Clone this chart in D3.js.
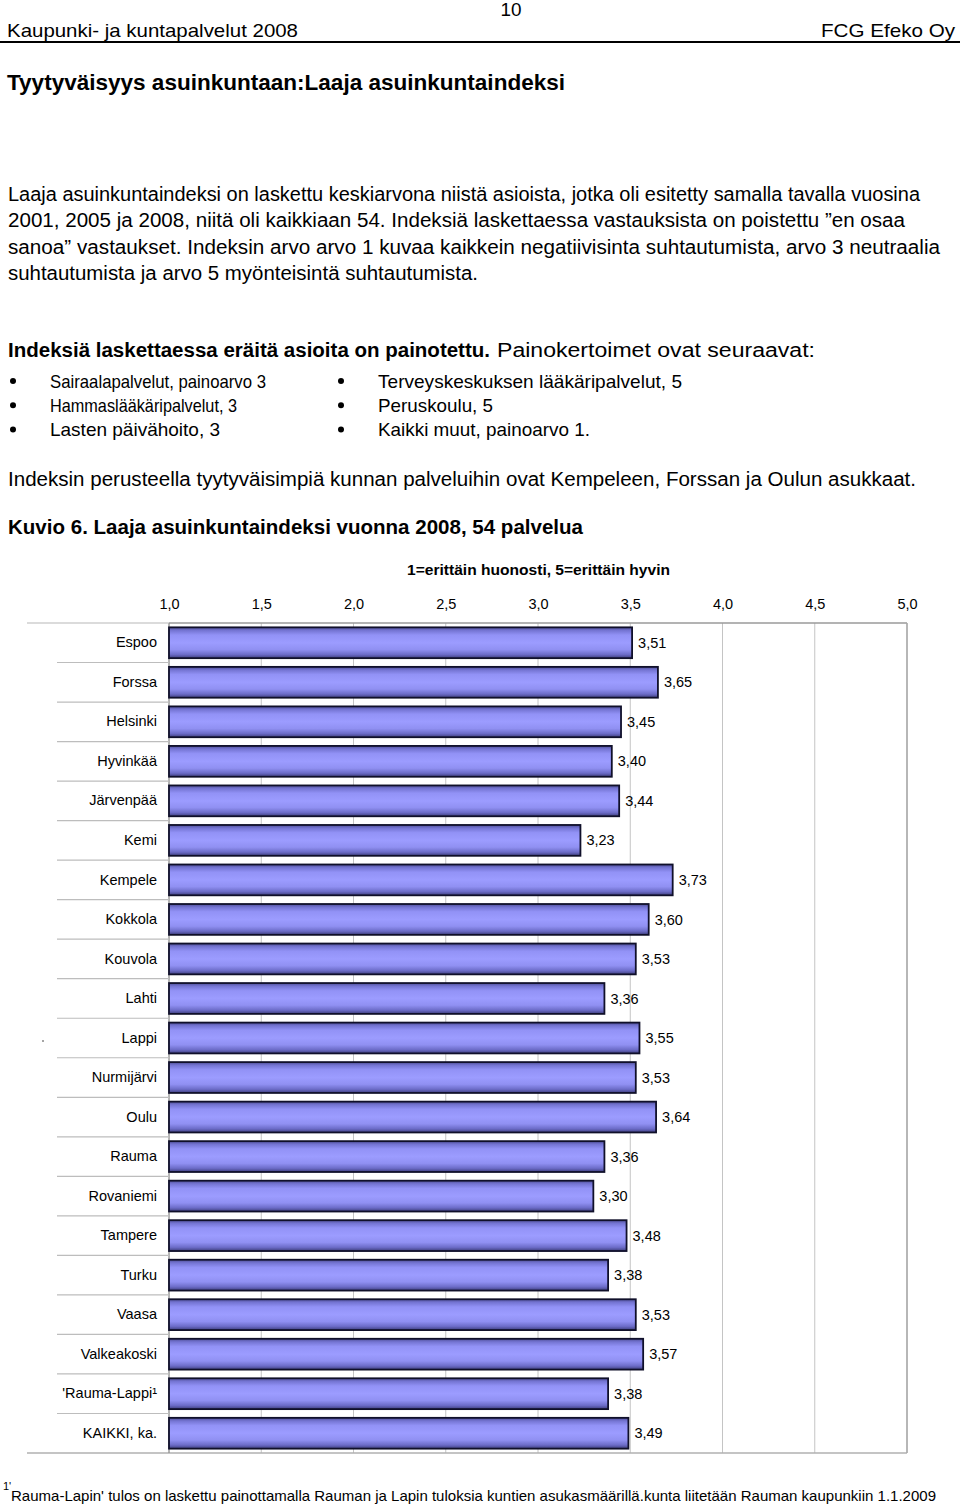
<!DOCTYPE html>
<html><head><meta charset="utf-8">
<script src="https://cdn.jsdelivr.net/npm/d3@7"></script>
<style>body{margin:0;background:#fff}svg{display:block}</style>
</head><body>
<script>
const categories = ["Espoo","Forssa","Helsinki","Hyvinkää","Järvenpää","Kemi","Kempele","Kokkola","Kouvola","Lahti","Lappi","Nurmijärvi","Oulu","Rauma","Rovaniemi","Tampere","Turku","Vaasa","Valkeakoski","'Rauma-Lappi¹","KAIKKI, ka."];
const values = [3.51,3.65,3.45,3.40,3.44,3.23,3.73,3.60,3.53,3.36,3.55,3.53,3.64,3.36,3.30,3.48,3.38,3.53,3.57,3.38,3.49];
const ticks = [1.0,1.5,2.0,2.5,3.0,3.5,4.0,4.5,5.0];
const fmt = v => v.toFixed(1).replace(".", ",");
const fmt2 = v => v.toFixed(2).replace(".", ",");

(function () {
const W = 960, H = 1507;
const svg = d3.select("body").append("svg").attr("width", W).attr("height", H);
const FF = "Liberation Sans, Arial, sans-serif";

function txt(x, y, s, size, opts = {}) {
  const t = svg.append("text").attr("x", x).attr("y", y).attr("font-family", FF)
    .attr("font-size", size).attr("fill", "#000").text(s);
  if (opts.bold) t.attr("font-weight", "bold");
  if (opts.anchor) t.attr("text-anchor", opts.anchor);
  if (opts.len) t.attr("textLength", opts.len).attr("lengthAdjust", "spacingAndGlyphs");
  return t;
}

// Header
txt(511, 16, "10", 18, {anchor: "middle", len: 21});
txt(7, 37, "Kaupunki- ja kuntapalvelut 2008", 19, {len: 291});
txt(955, 37, "FCG Efeko Oy", 19, {anchor: "end", len: 134});
svg.append("line").attr("x1", 0).attr("x2", 960).attr("y1", 42).attr("y2", 42).attr("stroke", "#000").attr("stroke-width", 2);

txt(7, 90, "Tyytyväisyys asuinkuntaan:Laaja asuinkuntaindeksi", 22, {bold: true, len: 558});

const para = [
  ["Laaja asuinkuntaindeksi on laskettu keskiarvona niistä asioista, jotka oli esitetty samalla tavalla vuosina", 912],
  ["2001, 2005 ja 2008, niitä oli kaikkiaan 54. Indeksiä laskettaessa vastauksista on poistettu ”en osaa", 897],
  ["sanoa” vastaukset. Indeksin arvo  arvo 1 kuvaa kaikkein negatiivisinta suhtautumista, arvo 3 neutraalia", 932],
  ["suhtautumista ja arvo 5 myönteisintä suhtautumista.", 470]
];
para.forEach((p, i) => txt(8, 201 + i * 26.3, p[0], 19.5, {len: p[1]}));

txt(8, 357, "Indeksiä laskettaessa eräitä asioita on painotettu.", 19.5, {bold: true, len: 482});
txt(497, 357, "Painokertoimet ovat seuraavat:", 19.5, {len: 318});

const bulletsL = ["Sairaalapalvelut, painoarvo 3", "Hammaslääkäripalvelut, 3", "Lasten päivähoito, 3"];
const bulletsR = ["Terveyskeskuksen lääkäripalvelut, 5", "Peruskoulu, 5", "Kaikki muut, painoarvo 1."];
const lensL = [216, 187, 170], lensR = [304, 115, 212];
bulletsL.forEach((b, i) => {
  const yy = 381 + i * 24.3;
  svg.append("circle").attr("cx", 13).attr("cy", yy).attr("r", 3).attr("fill", "#000");
  txt(50, yy + 6.5, b, 19, {len: lensL[i]});
});
bulletsR.forEach((b, i) => {
  const yy = 381 + i * 24.3;
  svg.append("circle").attr("cx", 341).attr("cy", yy).attr("r", 3).attr("fill", "#000");
  txt(378, yy + 6.5, b, 19, {len: lensR[i]});
});

txt(8, 486, "Indeksin perusteella tyytyväisimpiä kunnan palveluihin ovat Kempeleen, Forssan ja Oulun asukkaat.", 19.5, {len: 908});
txt(8, 534, "Kuvio 6. Laaja asuinkuntaindeksi vuonna 2008, 54 palvelua", 20.5, {bold: true, len: 575});
txt(407, 575, "1=erittäin huonosti, 5=erittäin hyvin", 15, {bold: true, len: 263});

// Chart
const plotTop = 623, plotBottom = 1453;
const x = d3.scaleLinear().domain([1, 5]).range([169, 907]);
const y = d3.scaleBand().domain(categories).range([plotTop, plotBottom]).paddingInner(0.22).paddingOuter(0.11);

const defs = svg.append("defs");
const g = defs.append("linearGradient").attr("id", "barg").attr("x1", 0).attr("x2", 0).attr("y1", 0).attr("y2", 1);
[[0, "#4e4e96"], [0.1, "#7474d2"], [0.25, "#9292f6"], [0.5, "#9c9cff"], [0.72, "#9090f2"], [0.88, "#6c6cc8"], [1, "#3e3e7c"]]
  .forEach(([o, c]) => g.append("stop").attr("offset", o).attr("stop-color", c));

// gridlines
svg.append("g").selectAll("line").data(ticks).join("line")
  .attr("x1", d => x(d)).attr("x2", d => x(d)).attr("y1", plotTop).attr("y2", plotBottom)
  .attr("stroke", "#c4c4c4").attr("stroke-width", 1);
// plot frame
svg.append("line").attr("x1", 169).attr("x2", 907).attr("y1", plotTop).attr("y2", plotTop).attr("stroke", "#9a9a9a").attr("stroke-width", 1.5);
svg.append("line").attr("x1", 27).attr("x2", 907).attr("y1", plotBottom).attr("y2", plotBottom).attr("stroke", "#b0b0b0").attr("stroke-width", 1.5);
svg.append("line").attr("x1", 907).attr("x2", 907).attr("y1", plotTop).attr("y2", plotBottom).attr("stroke", "#a8a8a8").attr("stroke-width", 1.5);
svg.append("line").attr("x1", 169).attr("x2", 169).attr("y1", plotTop).attr("y2", plotBottom).attr("stroke", "#888").attr("stroke-width", 1);
svg.append("line").attr("x1", 27).attr("x2", 169).attr("y1", plotTop).attr("y2", plotTop).attr("stroke", "#b8b8b8").attr("stroke-width", 1.2);

// category separators
const step = y.step();
svg.append("g").selectAll("line").data(categories.slice(1)).join("line")
  .attr("x1", 57).attr("x2", 169)
  .attr("y1", d => y(d) - step * 0.11).attr("y2", d => y(d) - step * 0.11)
  .attr("stroke", "#bdbdbd").attr("stroke-width", 1.2);

// top axis labels
const axis = d3.axisTop(x).tickValues(ticks).tickFormat(fmt).tickSize(0).tickPadding(14);
const ag = svg.append("g").attr("transform", `translate(0,${plotTop})`).call(axis);
ag.select(".domain").remove();
ag.selectAll("text").attr("font-family", FF).attr("font-size", 14.5).attr("fill", "#000");

// category axis labels
const cag = svg.append("g").attr("transform", "translate(169,0)")
  .call(d3.axisLeft(y).tickSize(0).tickPadding(12));
cag.select(".domain").remove();
cag.selectAll("text").attr("font-family", FF).attr("font-size", 14.5).attr("fill", "#000");

// bars
svg.append("g").selectAll("rect").data(categories).join("rect")
  .attr("x", x(1)).attr("y", d => y(d))
  .attr("width", (d, i) => x(values[i]) - x(1)).attr("height", y.bandwidth())
  .attr("fill", "url(#barg)").attr("stroke", "#10102a").attr("stroke-width", 1.8);

// value labels
svg.append("g").selectAll("text").data(categories).join("text")
  .attr("x", (d, i) => x(values[i]) + 6).attr("y", d => y(d) + y.bandwidth() / 2)
  .attr("dy", "0.35em").attr("font-family", FF).attr("font-size", 14.5)
  .text((d, i) => fmt2(values[i]));

// tiny dot near Lappi
svg.append("circle").attr("cx", 43).attr("cy", y("Lappi") + y.bandwidth() / 2 + 3).attr("r", 0.8).attr("fill", "#333");

// footnote
txt(3, 1490, "1'", 11);
txt(11, 1501, "Rauma-Lapin' tulos on laskettu painottamalla Rauman ja Lapin tuloksia kuntien asukasmäärillä.kunta liitetään Rauman kaupunkiin 1.1.2009", 15, {len: 925});
})();
</script>
</body></html>
